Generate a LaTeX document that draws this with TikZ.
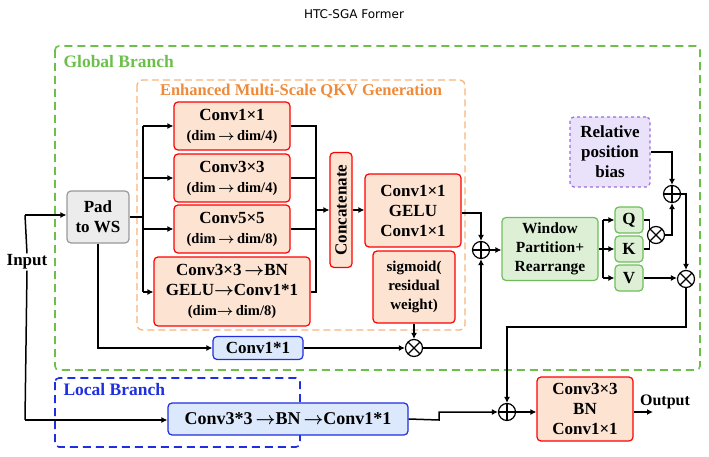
\documentclass[tikz,border=0pt]{standalone}
\usepackage{amsmath}
\usepackage{fontspec}
\setmainfont{Liberation Serif}
\newfontfamily\titlefont{DejaVu Sans}
\usetikzlibrary{arrows.meta,calc}
\definecolor{ofill}{HTML}{FCE3D2}
\definecolor{gfill}{HTML}{DDF0D6}
\definecolor{gline}{HTML}{6DBE5A}
\definecolor{gdash}{HTML}{6CC04A}
\definecolor{odash}{HTML}{F6B37A}
\definecolor{olab}{HTML}{EE8A3A}
\definecolor{pfill}{HTML}{EAE2FA}
\definecolor{pline}{HTML}{9B6BE0}
\definecolor{bfill}{HTML}{DCE8FB}
\definecolor{bline}{HTML}{1F2EE0}
\tikzset{
 bx/.style={rounded corners=4pt,line width=1.2pt,align=center,font=\bfseries\fontsize{17}{20}\selectfont,inner sep=0pt},
 obox/.style={bx,draw=red,fill=ofill},
 gbox/.style={bx,draw=gline,fill=gfill},
 ar/.style={-{Latex[length=6pt,width=6pt]},line width=1.5pt},
 ln/.style={line width=1.5pt},
 opl/.style={circle,draw,line width=1.2pt,minimum size=17pt,inner sep=0pt,path picture={\draw[line width=1.1pt] (path picture bounding box.north)--(path picture bounding box.south) (path picture bounding box.west)--(path picture bounding box.east);}},
 otm/.style={circle,draw,line width=1.2pt,minimum size=17pt,inner sep=0pt,path picture={\draw[line width=1.1pt] (path picture bounding box.north west)--(path picture bounding box.south east) (path picture bounding box.south west)--(path picture bounding box.north east);}},
}
\newcommand{\sm}[1]{{\fontsize{14.5}{17}\selectfont #1}}
\begin{document}
\begin{tikzpicture}[x=1pt,y=-1pt]
\useasboundingbox (0,0) rectangle (709,457);
\node[font=\titlefont\fontsize{12}{14}\selectfont] (title) at (354,14) {HTC-SGA Former};
% branches
\draw[gdash,dashed,dash pattern=on 8pt off 5pt,line width=1.6pt,rounded corners=4pt] (55,46) rectangle (700,370);
\node[anchor=west,text=gdash,font=\bfseries\fontsize{17.5}{20}\selectfont] (glab) at (60,62) {Global Branch};
\draw[odash,dashed,dash pattern=on 7pt off 4pt,line width=1.3pt,rounded corners=5pt] (137,80) rectangle (465,330);
\node[text=olab,font=\bfseries\fontsize{16.5}{18}\selectfont] (olab) at (301,91) {Enhanced Multi-Scale QKV Generation};
\draw[bline,dashed,dash pattern=on 8pt off 5pt,line width=1.6pt,rounded corners=4pt] (55,378) rectangle (300,447);
\node[anchor=west,text=bline,font=\bfseries\fontsize{17.5}{20}\selectfont] (llab) at (60,390) {Local Branch};
% nodes
\node[bx,draw=gray!80,fill=gray!15,minimum width=62pt,minimum height=52pt] (pad) at (98,217) {Pad\\to WS};
\node[obox,minimum width=116pt,minimum height=48pt] (c1) at (232,126) {Conv1×1\\\sm{(dim\,$\boldsymbol\rightarrow$\,dim/4)}};
\node[obox,minimum width=116pt,minimum height=48pt] (c3) at (232,178) {Conv3×3\\\sm{(dim\,$\boldsymbol\rightarrow$\,dim/4)}};
\node[obox,minimum width=116pt,minimum height=48pt] (c5) at (232,229) {Conv5×5\\\sm{(dim\,$\boldsymbol\rightarrow$\,dim/8)}};
\node[obox,minimum width=156pt,minimum height=69pt] (c33) at (232,291.5) {Conv3×3\,$\boldsymbol\rightarrow$BN\\GELU$\boldsymbol\rightarrow$Conv1*1\\\sm{(dim$\boldsymbol\rightarrow$\,dim/8)}};
\node[obox,minimum width=22pt,minimum height=115pt] (cat) at (341,210) {\rotatebox{90}{Concatenate}};
\node[obox,minimum width=96pt,minimum height=73pt] (mlp) at (413,210.5) {Conv1×1\\GELU\\Conv1×1};
\node[obox,minimum width=82pt,minimum height=72pt,font=\bfseries\fontsize{15}{19}\selectfont] (sig) at (414,287) {sigmoid(\\residual\\weight)};
\node[bx,draw=bline,fill=bfill,minimum width=90pt,minimum height=23pt] (c11) at (258,348) {Conv1*1};
\node[opl] (p1) at (481,250) {};
\node[otm] (m0) at (414,348) {};
\node[gbox,minimum width=96pt,minimum height=63pt,font=\bfseries\fontsize{15.5}{19}\selectfont] (win) at (550,249) {Window\\Partition+\\Rearrange};
\node[gbox,minimum width=28pt,minimum height=26pt] (q) at (629,220) {Q};
\node[gbox,minimum width=28pt,minimum height=26pt] (k) at (629,249) {K};
\node[gbox,minimum width=28pt,minimum height=26pt] (v) at (629,278) {V};
\node[bx,draw=pline,fill=pfill,dashed,minimum width=80pt,minimum height=70pt] (rpb) at (610,152) {Relative\\position\\bias};
\node[otm] (m1) at (656,235) {};
\node[opl] (p2) at (672,194) {};
\node[otm] (m2) at (686,279) {};
\node[bx,draw=bline,fill=bfill,minimum width=240pt,minimum height=32pt,font=\bfseries\fontsize{18}{20}\selectfont] (loc) at (288,419) {Conv3*3\,$\boldsymbol\rightarrow$BN\,$\boldsymbol\rightarrow$Conv1*1};
\node[opl] (p3) at (507,412) {};
\node[obox,minimum width=96pt,minimum height=64pt] (fin) at (585,409) {Conv3×3\\BN\\Conv1×1};
\node[font=\bfseries\fontsize{16}{18}\selectfont] (out) at (665,402) {Output};
\coordinate (oe) at (653,412);
\node[fill=white,inner sep=1pt,font=\bfseries\fontsize{17}{19}\selectfont] (inp) at (27,262) {Input};
% input connectors
\draw[ln] (inp.north) -- (25,215);
\draw[ar] (25,215) -- (pad.west|-25,215);
\draw[ln] (inp.south) -- (25,420);
\draw[ar] (25,420) -- (loc.west|-25,420);
% split
\coordinate (s) at (143,217);
\draw[ln] (pad.east|-s) -- (s);
\draw[ln] (143,126) -- (143,292);
\draw[ar] (143,126) -- (c1.west|-143,126);
\draw[ar] (143,178) -- (c3.west|-143,178);
\draw[ar] (143,229) -- (c5.west|-143,229);
\draw[ar] (143,292) -- (c33.west|-143,292);
% merge
\draw[ln] (c1.east) -- (316,126) -- (316,292) -- (c33.east|-316,292);
\draw[ln] (c3.east) -- (316,178);
\draw[ln] (c5.east) -- (316,229);
\draw[ar] (316,210) -- (cat.west);
\draw[ar] (cat.east) -- (mlp.west|-cat.east);
\draw[ar] (mlp.east|-461,213) -| (p1.north);
\draw[ar] (sig.south) -- (m0.north);
\draw[ar] (pad.south) |- (c11.west);
\draw[ar] (c11.east) -- (m0.west);
\draw[ar] (m0.east) -| (p1.south);
\draw[ar] (p1.east) -- (win.west|-p1.east);
% qkv
\draw[ln] (win.east) -- (603,249);
\draw[ln] (603,220) -- (603,278);
\draw[ar] (603,220) -- (q.west);
\draw[ar] (603,249) -- (k.west);
\draw[ar] (603,278) -- (v.west);
\draw[ln] (q.east) -| (m1.north west);
\draw[ln] (k.east) -| (m1.south west);
\draw[ar] (m1.east) -| (p2.south);
\draw[ar] (rpb.east) -| (p2.north);
\draw[ar] (p2.east) -| (m2.north);
\draw[ar] (v.east) -- (m2.west|-v.east);
\draw[ar] (m2.south) -- (686,327) -| (p3.north);
\draw[ar] (loc.east) -- (439,420) -- (439,412) -- (p3.west);
\draw[ar] (p3.east) -- (fin.west|-p3.east);
\draw[ar] (fin.east|-oe) -- (oe);
\end{tikzpicture}
\end{document}
